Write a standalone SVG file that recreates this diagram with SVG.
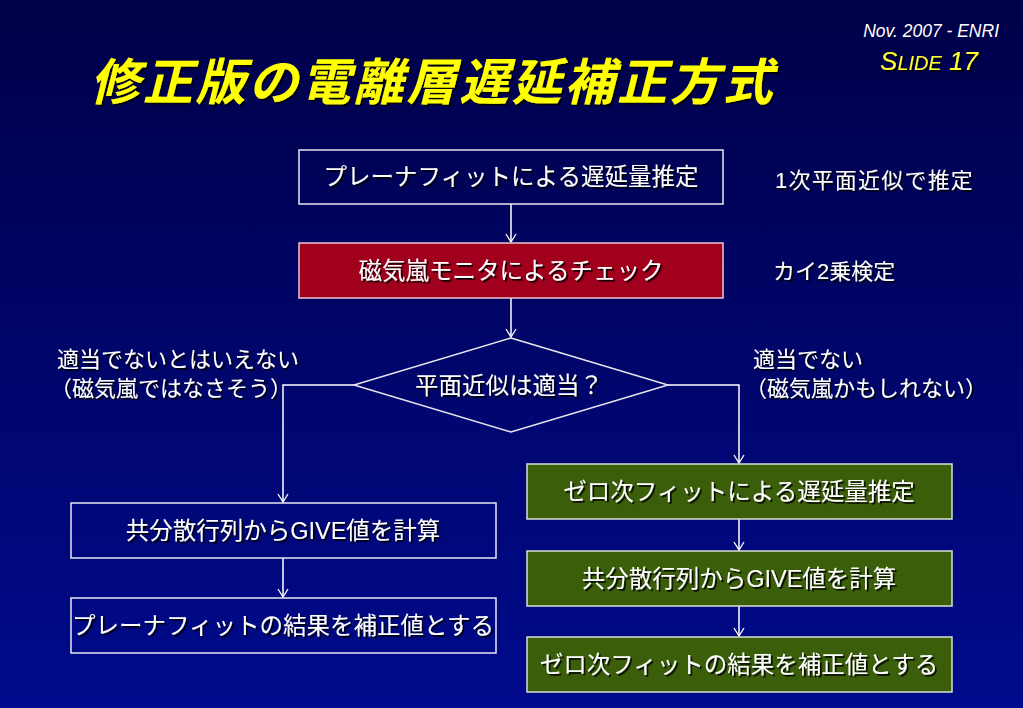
<svg xmlns="http://www.w3.org/2000/svg" width="1023" height="708" viewBox="0 0 1023 708">
<defs>
<linearGradient id="bg" x1="0" y1="0" x2="0" y2="1">
<stop offset="0" stop-color="#000048"/>
<stop offset="1" stop-color="#000a8c"/>
</linearGradient>
<filter id="sh" x="-5%" y="-30%" width="110%" height="160%">
<feDropShadow dx="1.8" dy="1.8" stdDeviation="0.6" flood-color="#000000" flood-opacity="0.85"/>
</filter>
<marker id="arr" viewBox="0 0 12 12" markerWidth="12" markerHeight="12" refX="11" refY="6" orient="auto" markerUnits="userSpaceOnUse">
<path d="M3,1 L11,6 L3,11" fill="none" stroke="#ffffff" stroke-width="1.3"/>
</marker>
</defs>
<style>
.box{stroke:#e8e8f0;stroke-width:1.5}
.plain{fill:none}
.red{fill:#a0001c;stroke:#e8c8d0}
.green{fill:#3b5e0a;stroke:#d8e0d0}
.t{font-family:"Liberation Sans","Noto Sans CJK JP",sans-serif;fill:#ffffff;font-size:23.5px;filter:url(#sh)}
.c{text-anchor:middle}
.lbl{font-size:22px}
.con{fill:none;stroke:#ffffff;stroke-width:1.5}
</style>
<rect width="1023" height="708" fill="url(#bg)"/>

<g id="header">
<text x="999" y="37" text-anchor="end" font-family="Liberation Sans, sans-serif" font-style="italic" font-size="17.5" fill="#ffffff">Nov. 2007 - ENRI</text>
<text x="978" y="70" text-anchor="end" font-family="Liberation Sans, sans-serif" font-style="italic" fill="#ffff33" filter="url(#sh)"><tspan font-size="26">S</tspan><tspan font-size="20">LIDE</tspan><tspan font-size="26"> 17</tspan></text>
<text x="90" y="100" font-family="'Noto Sans CJK JP',sans-serif" font-weight="bold" font-style="italic" font-size="50" letter-spacing="2.7" fill="#ffff00" filter="url(#sh)">修正版の電離層遅延補正方式</text>
</g>

<g id="connectors">
<line class="con" x1="511" y1="204" x2="511" y2="242" marker-end="url(#arr)"/>
<line class="con" x1="511" y1="298" x2="511" y2="337" marker-end="url(#arr)"/>
<polyline class="con" points="354,385 283,385 283,502" marker-end="url(#arr)"/>
<polyline class="con" points="668,385 739,385 739,463" marker-end="url(#arr)"/>
<line class="con" x1="283" y1="558" x2="283" y2="597" marker-end="url(#arr)"/>
<line class="con" x1="739" y1="519" x2="739" y2="550" marker-end="url(#arr)"/>
<line class="con" x1="739" y1="606" x2="739" y2="636" marker-end="url(#arr)"/>
</g>

<g id="n1">
<rect class="box plain" x="299" y="150" width="424" height="54"/>
<text class="t c" x="511" y="185">プレーナフィットによる遅延量推定</text>
</g>
<g id="n1label">
<text class="t lbl" x="775" y="188" letter-spacing="1.2">1次平面近似で推定</text>
</g>

<g id="n2">
<rect class="box red" x="299" y="243" width="424" height="55"/>
<text class="t c" x="511" y="279">磁気嵐モニタによるチェック</text>
</g>
<g id="n2label">
<text class="t lbl" x="773" y="279">カイ2乗検定</text>
</g>

<g id="decision">
<polygon class="box plain" points="511,338 668,385 511,432 354,385"/>
<text class="t c" x="509" y="394">平面近似は適当？</text>
</g>

<g id="label-left">
<text class="t lbl" x="57" y="367">適当でないとはいえない</text>
<text class="t lbl" x="50" y="396">（磁気嵐ではなさそう）</text>
</g>
<g id="label-right">
<text class="t lbl" x="753" y="367">適当でない</text>
<text class="t lbl" x="745" y="396">（磁気嵐かもしれない）</text>
</g>

<g id="l1">
<rect class="box plain" x="71" y="503" width="425" height="55"/>
<text class="t c" x="283" y="539">共分散行列からGIVE値を計算</text>
</g>
<g id="l2">
<rect class="box plain" x="71" y="598" width="425" height="55"/>
<text class="t c" x="283" y="634">プレーナフィットの結果を補正値とする</text>
</g>

<g id="r1">
<rect class="box green" x="527" y="464" width="425" height="55"/>
<text class="t c" x="739" y="500">ゼロ次フィットによる遅延量推定</text>
</g>
<g id="r2">
<rect class="box green" x="527" y="551" width="425" height="55"/>
<text class="t c" x="739" y="587">共分散行列からGIVE値を計算</text>
</g>
<g id="r3">
<rect class="box green" x="527" y="637" width="425" height="55"/>
<text class="t c" x="739" y="673">ゼロ次フィットの結果を補正値とする</text>
</g>
</svg>
